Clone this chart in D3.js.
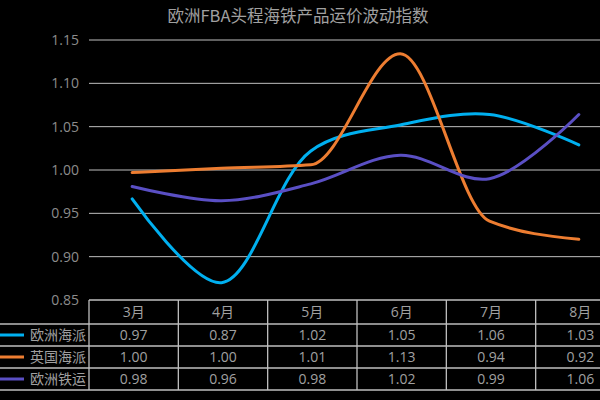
<!DOCTYPE html>
<html><head><meta charset="utf-8">
<script src="https://cdn.jsdelivr.net/npm/d3@7"></script>
<style>body{margin:0;background:#000}</style>
</head><body>
<svg id="c" width="600" height="400"></svg>
<script>
const title = "欧洲FBA头程海铁产品运价波动指数";
const categories = ["3月","4月","5月","6月","7月","8月"];
const seriesNames = ["欧洲海派","英国海派","欧洲铁运"];
const seaEU = [0.9666, 0.870, 1.022, 1.052, 1.064, 1.029];
const seaUK = [0.997, 1.002, 1.006, 1.134, 0.941, 0.920];
const railEU = [0.981, 0.9646, 0.984, 1.017, 0.990, 1.064];
const colors = ["#00b0f0","#ed7d31","#5a4fc4"];
const yTicks = [0.85,0.90,0.95,1.00,1.05,1.10,1.15];

const series = [seaEU, seaUK, railEU];
const curves = [d3.curveCatmullRom.alpha(0.5), d3.curveMonotoneX, d3.curveCatmullRom.alpha(0.5)];
const svg = d3.select("#c");
svg.append("rect").attr("width",600).attr("height",400).attr("fill","#000");
const font = "'Open Sans','Noto Sans CJK SC',sans-serif";
const txt = "#a0a0a0";

const x = d3.scaleBand().domain(categories).range([89, 625]);
const y = d3.scaleLinear().domain([0.85,1.15]).range([300,40]);

svg.append("text").attr("x",298).attr("y",22).attr("text-anchor","middle")
  .attr("font-family","'Noto Sans CJK SC',sans-serif").attr("font-size",16.5).attr("fill","#a0a0a0").text(title);

// gridlines
svg.append("g").selectAll("line").data(yTicks.slice(1)).join("line")
  .attr("x1",89).attr("x2",600).attr("y1",d=>y(d)).attr("y2",d=>y(d))
  .attr("stroke","#bfbfbf").attr("stroke-width",1);

// y axis labels
svg.append("g").selectAll("text").data(yTicks).join("text")
  .attr("x",79).attr("y",d=>y(d)).attr("dy","0.35em").attr("text-anchor","end")
  .attr("font-family",font).attr("font-size",14).attr("fill","#8c8c8c")
  .text(d=>d.toFixed(2));

// lines
series.forEach((s,k)=>{
  const line = d3.line().x((d,i)=>x(categories[i])+x.bandwidth()/2 - 1.5).y(d=>y(d)).curve(curves[k]);
  svg.append("path").datum(s).attr("d",line).attr("fill","none")
    .attr("stroke",colors[k]).attr("stroke-width",3).attr("stroke-linecap","round");
});

// data table
const tTop = 300, hH = 24, rH = 22;
const rows = [tTop, tTop+hH, tTop+hH+rH, tTop+hH+2*rH, tTop+hH+3*rH];
const tg = svg.append("g");
tg.append("line").attr("x1",89).attr("x2",600).attr("y1",rows[0]).attr("y2",rows[0]).attr("stroke","#bfbfbf").attr("stroke-width",1.3);
rows.slice(1).forEach((r,i)=>{
  tg.append("line").attr("x1",0).attr("x2",600).attr("y1",r).attr("y2",r)
    .attr("stroke",i===0?"#8c8c8c":"#bfbfbf").attr("stroke-width",i===0?2:1.3);
});
categories.forEach(c=>{
  tg.append("line").attr("x1",x(c)).attr("x2",x(c)).attr("y1",rows[0]).attr("y2",rows[4])
    .attr("stroke","#bfbfbf").attr("stroke-width",1.3);
});
tg.selectAll("text.h").data(categories).join("text").attr("class","h")
  .attr("x",d=>x(d)+x.bandwidth()/2).attr("y",(rows[0]+rows[1])/2).attr("dy","0.35em")
  .attr("text-anchor","middle").attr("font-family",font).attr("font-size",14).attr("fill",txt).text(d=>d);
series.forEach((s,k)=>{
  const cy = (rows[k+1]+rows[k+2])/2;
  tg.append("line").attr("x1",0).attr("x2",24).attr("y1",cy).attr("y2",cy)
    .attr("stroke",colors[k]).attr("stroke-width",3);
  tg.append("text").attr("x",86).attr("y",cy).attr("dy","0.35em").attr("text-anchor","end")
    .attr("font-family","'Noto Sans CJK SC',sans-serif").attr("font-size",14).attr("fill",txt).text(seriesNames[k]);
  tg.selectAll("text.v"+k).data(s).join("text").attr("class","v"+k)
    .attr("x",(d,i)=>x(categories[i])+x.bandwidth()/2).attr("y",cy).attr("dy","0.35em")
    .attr("text-anchor","middle").attr("font-family",font).attr("font-size",14).attr("fill",txt)
    .text(d=>d.toFixed(2));
});
</script>
</body></html>
